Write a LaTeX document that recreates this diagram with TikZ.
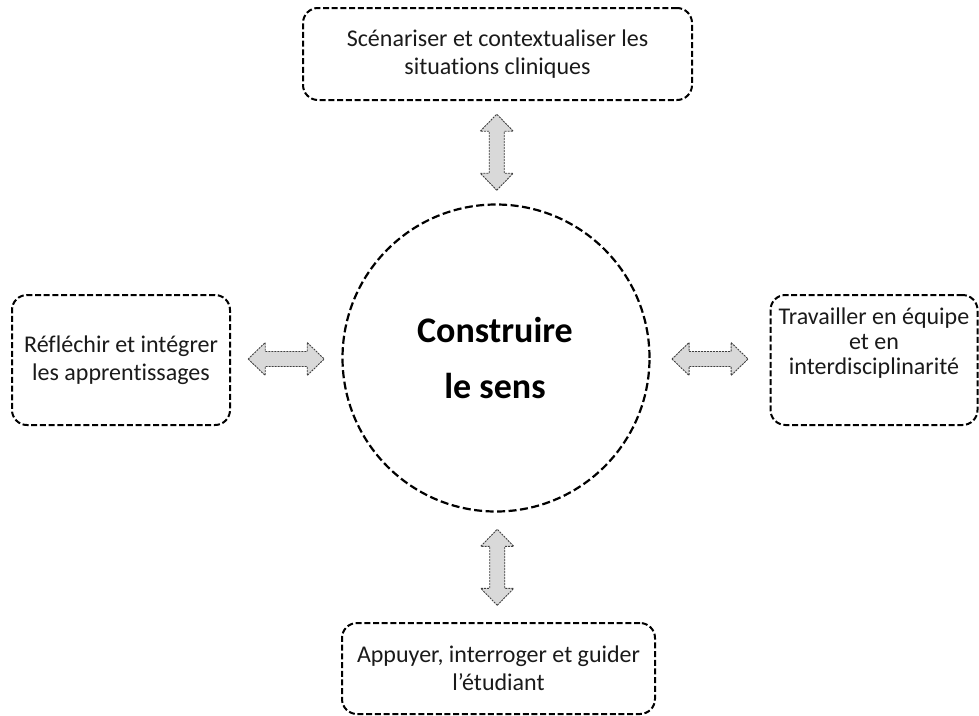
\documentclass[tikz,border=0pt]{standalone}
\usepackage{fontspec}
\setmainfont{Carlito}[Ligatures={NoCommon}]
\usetikzlibrary{calc}
\definecolor{arrfill}{HTML}{D9D9D9}
\definecolor{arrline}{HTML}{404040}
\definecolor{txt}{HTML}{1A1A1A}
\tikzset{
  x=1pt, y=-1pt,
  box/.style={draw=black, line width=2pt, dash pattern=on 6pt off 2.7pt, rounded corners=15pt,
    inner sep=0pt, text=txt, font=\fontsize{24}{28}\selectfont, align=center},
  ring/.style={circle, draw=black, line width=2.2pt, dash pattern=on 8pt off 3.5pt, inner sep=0pt,
    minimum size=307pt},
  arrowstyle/.style={fill=arrfill, draw=arrline, line width=0.9pt, dash pattern=on 2pt off 1pt, line join=miter},
  darr/.pic={\draw[arrowstyle] (-38,0) -- (-21,16.5) -- (-21,7.5) -- (21,7.5) -- (21,16.5) -- (38,0)
      -- (21,-16.5) -- (21,-7.5) -- (-21,-7.5) -- (-21,-16.5) -- cycle;}
}
\begin{document}
\begin{tikzpicture}
\useasboundingbox (0,0) rectangle (979,715);
\node[ring] (circ) at (496,358) {};
\node[text=black, font=\fontsize{36}{56}\selectfont\bfseries, align=center, anchor=base] (ctext) at (495,398) {Construire\\le sens};
\node[box, minimum width=389pt, minimum height=92pt] (top) at (497.5,54) {Scénariser et contextualiser les\\situations cliniques};
\node[box, minimum width=218pt, minimum height=130pt] (left) at (121,360) {Réfléchir et intégrer\\les apprentissages};
\node[box, minimum width=207pt, minimum height=130pt] (right) at (874,360) {};
\node[text=txt, font=\fontsize{24}{25}\selectfont, align=center] (rtext) at (874,343) {Travailler en équipe\\et en\\interdisciplinarité};
\node[box, minimum width=313pt, minimum height=91pt] (bottom) at (498.5,668.5) {Appuyer, interroger et guider\\l{\char"27}étudiant};
\pic[rotate=90] at ($(top.south)!0.5!(circ.north)$) {darr};
\pic[rotate=90] at ($(circ.south)!0.5!(bottom.north)$) {darr};
\pic at ($(left.east)!0.5!(circ.west)$) {darr};
\pic at ($(circ.east)!0.5!(right.west)$) {darr};
\end{tikzpicture}
\end{document}
